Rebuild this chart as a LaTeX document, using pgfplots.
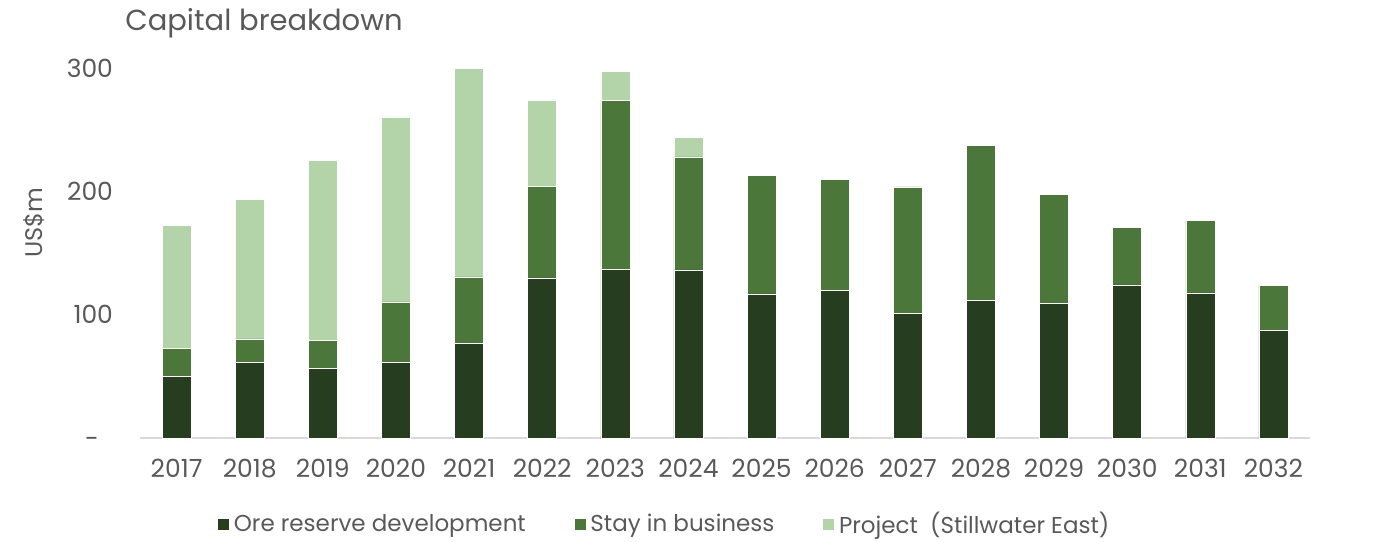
\documentclass[border=0pt]{standalone}
\usepackage{fontspec}
\setmainfont{Poppins}
\usepackage{pgfplots}
\pgfplotsset{compat=1.18}
\definecolor{ore}{HTML}{263D20}
\definecolor{sib}{HTML}{4B773B}
\definecolor{proj}{HTML}{B3D4A9}
\definecolor{txt}{HTML}{595959}
\definecolor{axl}{HTML}{D9D9D9}
\begin{document}
\begin{tikzpicture}
\useasboundingbox (0,0) rectangle (695.5pt,270.5pt);
\begin{axis}[
  at={(70pt,51.5pt)}, anchor=south west,
  scale only axis, width=585pt, height=185pt,
  ybar stacked, bar width=14.5pt,
  xmin=-0.5, xmax=15.5, ymin=0, ymax=300,
  xtick={0,...,15},
  xticklabels={2017,2018,2019,2020,2021,2022,2023,2024,2025,2026,2027,2028,2029,2030,2031,2032},
  ytick={100,200,300},
  extra y ticks={0},
  extra y tick labels={-},
  extra y tick style={yticklabel style={xshift=-7pt, yshift=-2pt}},
  major tick length=0pt,
  axis x line*=bottom, axis y line*=left,
  x axis line style={draw=axl, line width=1pt, -},
  y axis line style={draw=none},
  ticklabel style={font=\fontsize{12.5}{14}\selectfont, text=txt},
  xticklabel style={yshift=-7pt},
  yticklabel style={xshift=-10pt},
  /pgf/number format/assume math mode=true,
  legend columns=3,
  legend style={at={(0.449,-0.233)}, anchor=center, draw=none, fill=none,
    font=\fontsize{11.5}{13}\selectfont, text=txt,
    /tikz/every even column/.append style={column sep=22pt}},
  legend image code/.code={\fill[#1] (0pt,-3pt) rectangle (6pt,3pt);},
]
\addplot+[fill=ore, draw=white, line width=0.3pt] coordinates {(0,49.7)(1,61.1)(2,56.2)(3,61.1)(4,76.8)(5,129.8)(6,136.5)(7,136.3)(8,116.8)(9,119.5)(10,100.8)(11,111.4)(12,108.9)(13,124.1)(14,117.6)(15,87.0)};
\addplot+[fill=sib, draw=white, line width=0.3pt] coordinates {(0,22.7)(1,19.2)(2,22.7)(3,49.2)(4,53.8)(5,74.3)(6,137.1)(7,91.6)(8,95.9)(9,90.0)(10,102.8)(11,126.0)(12,88.4)(13,46.8)(14,59.0)(15,36.8)};
\addplot+[fill=proj, draw=white, line width=0.3pt] coordinates {(0,99.8)(1,113.0)(2,146.5)(3,150.0)(4,169.4)(5,70.0)(6,23.8)(7,15.9)(8,0)(9,0)(10,0)(11,0)(12,0)(13,0)(14,0)(15,0)};
\legend{Ore reserve development, Stay in business, Project\ \ (Stillwater East)}
\end{axis}
\node[anchor=west, inner sep=0pt, text=txt, font=\fontsize{14.5}{16}\selectfont] at (62.5pt,259pt) {Capital breakdown};
\node[rotate=90, text=txt, font=\fontsize{12}{14}\selectfont] at (17.25pt,159.25pt) {US\$m};
\end{tikzpicture}
\end{document}
